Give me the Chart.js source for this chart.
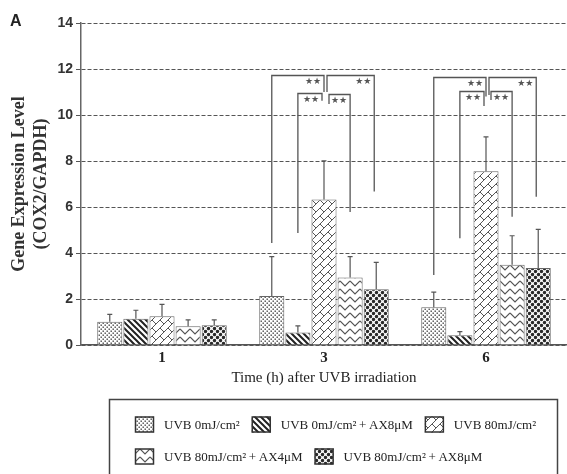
<!DOCTYPE html>
<html>
<head>
<meta charset="utf-8">
<script src="https://cdn.jsdelivr.net/npm/chart.js@4.4.1/dist/chart.umd.min.js"></script>
<style>
  html, body { margin: 0; padding: 0; background: #fff; }
</style>
</head>
<body>
<canvas id="cox2Chart" width="567" height="474"></canvas>
<script>
// COX2 / GAPDH gene expression after UVB irradiation
const categories = ['1', '3', '6'];
const seriesLabels = [
  'UVB 0mJ/cm²',
  'UVB 0mJ/cm²\u2009+\u2009AX8μM',
  'UVB 80mJ/cm²',
  'UVB 80mJ/cm²\u2009+\u2009AX4μM',
  'UVB 80mJ/cm²\u2009+\u2009AX8μM'
];
const uvb0     = [1.01, 2.13, 1.64];
const uvb0Ax8  = [1.14, 0.54, 0.42];
const uvb80    = [1.25, 6.33, 7.55];
const uvb80Ax4 = [0.81, 2.94, 3.49];
const uvb80Ax8 = [0.86, 2.42, 3.35];

// upper error bars (SD)
const errUvb0     = [0.32, 1.71, 0.66];
const errUvb0Ax8  = [0.37, 0.29, 0.16];
const errUvb80    = [0.52, 1.68, 1.50];
const errUvb80Ax4 = [0.28, 0.90, 1.26];
const errUvb80Ax8 = [0.23, 1.17, 1.68];

const yTicks = [0, 2, 4, 6, 8, 10, 12, 14];

// significance brackets (**): time group, bar from, bar to, top level, leg ends
const bracketGroup  = [1, 1, 1, 1, 2, 2, 2, 2];
const bracketFrom   = [0, 1, 2, 2, 0, 1, 2, 2];
const bracketTo     = [2, 2, 3, 4, 2, 2, 3, 4];
const bracketTop    = [11.74, 10.96, 10.91, 11.74, 11.67, 11.06, 11.06, 11.67];
const bracketLegA   = [4.43, 4.87, 10.48, 11.0, 3.04, 4.64, 10.65, 10.87];
const bracketLegB   = [11.0, 10.62, 5.78, 6.67, 10.8, 10.39, 5.58, 6.45];
const bracketLabel  = '★★';

// --- fill patterns for the bars ---
function makePattern(kind) {
  const c = document.createElement('canvas');
  const sizes = { dots: [4, 4], stripes: [6, 6], weave: [16, 16], zigzag: [10, 8], circles: [6, 6] };
  const [w, h] = sizes[kind];
  c.width = w; c.height = h;
  const g = c.getContext('2d');
  g.fillStyle = '#fff';
  g.fillRect(0, 0, w, h);
  g.strokeStyle = '#444';
  g.fillStyle = '#444';
  if (kind === 'dots') {
    g.fillRect(0.5, 0.5, 1.4, 1.4);
    g.fillRect(2.5, 2.5, 1.4, 1.4);
  } else if (kind === 'stripes') {
    g.strokeStyle = '#222';
    g.lineWidth = 2;
    g.beginPath();
    for (let k = -6; k <= 6; k += 6) { g.moveTo(k - 3, -3); g.lineTo(k + 9, 9); }
    g.stroke();
  } else if (kind === 'weave') {
    const s = 8;
    g.strokeStyle = '#555';
    g.lineWidth = 1;
    g.beginPath();
    for (let cc = -2 * w; cc <= 3 * w; cc += s) { g.moveTo(cc, 0); g.lineTo(cc - h, h); }
    for (let sum = -2 * w; sum <= 3 * w; sum += s) {
      const band = Math.round(sum / s);
      const base = (band % 2 === 0) ? 0 : s;
      for (let d = base - 3 * w; d <= 3 * w; d += 2 * s) {
        g.moveTo((sum + d) / 2, (sum - d) / 2);
        g.lineTo((sum + s + d) / 2, (sum + s - d) / 2);
      }
    }
    g.stroke();
  } else if (kind === 'zigzag') {
    g.strokeStyle = '#555';
    g.lineWidth = 1.2;
    g.beginPath();
    g.moveTo(0, 1); g.lineTo(5, 6); g.lineTo(10, 1);
    g.stroke();
  } else if (kind === 'circles') {
    g.fillStyle = '#2a2a2a';
    [[1.5, 1.5], [4.5, 4.5], [7.5, 1.5], [-1.5, 4.5], [1.5, 7.5], [-1.5, -1.5], [4.5, -1.5], [7.5, 7.5]].forEach(p => {
      g.beginPath(); g.arc(p[0], p[1], 1.7, 0, Math.PI * 2); g.fill();
    });
  }
  return g.createPattern(c, 'repeat');
}

const fills = ['dots', 'stripes', 'weave', 'zigzag', 'circles'].map(makePattern);
const seriesValues = [uvb0, uvb0Ax8, uvb80, uvb80Ax4, uvb80Ax8];
const seriesErrors = [errUvb0, errUvb0Ax8, errUvb80, errUvb80Ax4, errUvb80Ax8];

// error bars drawn on top of each bar, upper side only
const errorBars = {
  id: 'errorBars',
  afterDatasetsDraw(chart) {
    const { ctx, scales: { y } } = chart;
    ctx.save();
    ctx.strokeStyle = '#555';
    ctx.lineWidth = 1.2;
    seriesErrors.forEach((errs, i) => {
      const meta = chart.getDatasetMeta(i);
      meta.data.forEach((bar, j) => {
        const top = y.getPixelForValue(seriesValues[i][j] + errs[j]);
        ctx.beginPath();
        ctx.moveTo(bar.x, bar.y);
        ctx.lineTo(bar.x, top);
        ctx.moveTo(bar.x - 2.5, top);
        ctx.lineTo(bar.x + 2.5, top);
        ctx.stroke();
      });
    });
    ctx.restore();
  }
};

// ** brackets between groups of bars
const sigBrackets = {
  id: 'sigBrackets',
  afterDatasetsDraw(chart) {
    const { ctx, scales: { y } } = chart;
    ctx.save();
    ctx.strokeStyle = '#555';
    ctx.lineWidth = 1.3;
    ctx.fillStyle = '#555';
    ctx.font = '9px "DejaVu Sans"';
    ctx.textAlign = 'center';
    ctx.textBaseline = 'middle';
    bracketGroup.forEach((grp, k) => {
      const from = bracketFrom[k], to = bracketTo[k];
      const outer = (to - from) === 2;
      let x1 = chart.getDatasetMeta(from).data[grp].x;
      let x2 = chart.getDatasetMeta(to).data[grp].x;
      if (to === 2) x2 += outer ? 0 : -2;       // left-hand brackets end near the middle bar
      if (from === 2) x1 += outer ? 3 : 5;      // right-hand brackets start just past it
      if (to === 4) x2 -= 2;
      const yt = Math.round(y.getPixelForValue(bracketTop[k])) + 0.5;
      ctx.beginPath();
      ctx.moveTo(x1, y.getPixelForValue(bracketLegA[k]));
      ctx.lineTo(x1, yt);
      ctx.lineTo(x2, yt);
      ctx.lineTo(x2, y.getPixelForValue(bracketLegB[k]));
      ctx.stroke();
      ctx.fillText(bracketLabel, x2 - 11, yt + 6);
    });
    ctx.restore();
  }
};

// boxed legend under the axis title, plus the panel letter
const boxedLegend = {
  id: 'boxedLegend',
  afterDraw(chart) {
    const ctx = chart.ctx;
    const top = chart.scales.x.bottom + 12.5;
    ctx.save();
    ctx.strokeStyle = '#444';
    ctx.lineWidth = 1.5;
    ctx.strokeRect(109.5, top, 448, 100);

    ctx.font = '13px "Liberation Serif"';
    ctx.textBaseline = 'middle';
    ctx.fillStyle = '#222';
    let x = 135, rowY = top + 25;
    chart.data.datasets.forEach((ds, i) => {
      const w = ctx.measureText(ds.label).width;
      if (x + 29 + w > 550) { x = 135; rowY += 32; }
      ctx.fillStyle = ds.backgroundColor;
      ctx.fillRect(x, rowY - 8, 19, 16);
      ctx.strokeStyle = '#333';
      ctx.lineWidth = 1.5;
      ctx.strokeRect(x + 0.5, rowY - 7.5, 18, 15);
      ctx.fillStyle = '#222';
      ctx.fillText(ds.label, x + 29, rowY + 1);
      x += 29 + w + 12;
    });

    ctx.font = 'bold 16px "Liberation Sans"';
    ctx.fillStyle = '#222';
    ctx.textAlign = 'left';
    ctx.fillText('A', 10, 22);
    ctx.restore();
  }
};

new Chart(document.getElementById('cox2Chart').getContext('2d'), {
  type: 'bar',
  data: {
    labels: categories,
    datasets: seriesLabels.map((label, i) => ({
      label: label,
      data: seriesValues[i],
      backgroundColor: fills[i],
      borderColor: '#666',
      borderWidth: 1,
      categoryPercentage: 0.806,
      barPercentage: 0.96
    }))
  },
  options: {
    responsive: false,
    animation: false,
    layout: { padding: { left: 0, top: 23, right: -5, bottom: 87 } },
    scales: {
      x: {
        grid: { display: false, drawTicks: false },
        border: { display: true, color: '#555', width: 1.5 },
        ticks: {
          font: { family: 'Liberation Serif', size: 15, weight: 'bold' },
          color: '#222',
          padding: 4
        },
        title: {
          display: true,
          text: 'Time (h) after UVB irradiation',
          font: { family: 'Liberation Serif', size: 15 },
          color: '#222',
          padding: { top: 0, bottom: 0 }
        },
        afterFit: s => { s.height = 42; }
      },
      y: {
        min: 0,
        max: 14,
        afterBuildTicks: s => { s.ticks = yTicks.map(v => ({ value: v })); },
        grid: { color: '#555', lineWidth: 1, tickLength: 5, tickColor: '#555', tickBorderDash: [] },
        border: { display: true, color: '#666', width: 1.5, dash: [4, 2] },
        ticks: {
          font: { family: 'Liberation Sans', size: 14, weight: 'bold' },
          color: '#333',
          padding: 3
        },
        title: {
          display: true,
          text: ['Gene Expression Level', '(COX2/GAPDH)'],
          font: { family: 'Liberation Serif', size: 18, weight: 'bold', lineHeight: 1.25 },
          color: '#333',
          padding: { top: 8, bottom: 0 }
        },
        afterFit: s => { s.width = 81; }
      }
    },
    plugins: {
      legend: { display: false },
      tooltip: { enabled: false }
    }
  },
  plugins: [errorBars, sigBrackets, boxedLegend]
});
</script>
</body>
</html>
